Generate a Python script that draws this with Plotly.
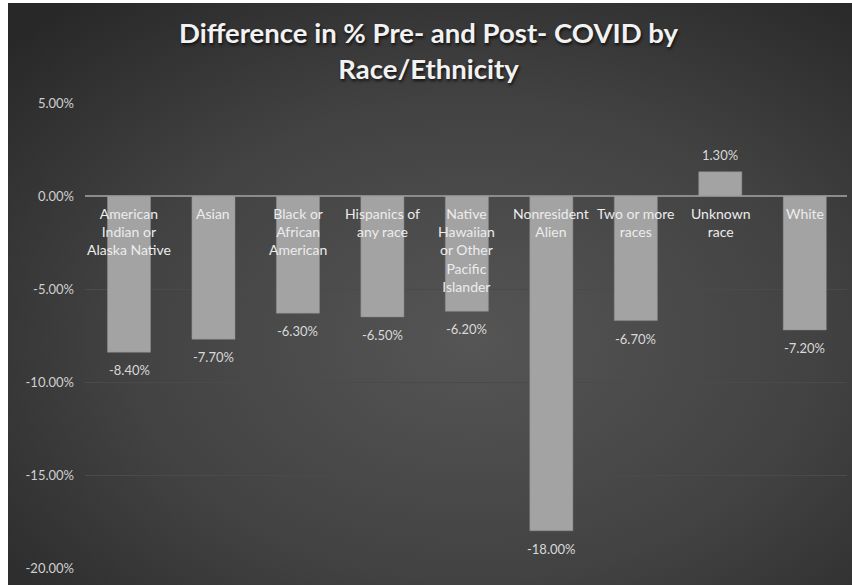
import base64
import plotly.graph_objects as go

categories = ["American Indian or Alaska Native", "Asian", "Black or African American",
              "Hispanics of any race", "Native Hawaiian or Other Pacific Islander",
              "Nonresident Alien", "Two or more races", "Unknown race", "White"]
wrapped_labels = ["American<br>Indian or<br>Alaska Native", "Asian", "Black or<br>African<br>American",
                  "Hispanics of<br>any race", "Native<br>Hawaiian<br>or Other<br>Pacific<br>Islander",
                  "Nonresident<br>Alien", "Two or more<br>races", "Unknown<br>race", "White"]
values = [-8.4, -7.7, -6.3, -6.5, -6.2, -18.0, -6.7, 1.3, -7.2]
tick_vals = [5, 0, -5, -10, -15, -20]
tick_text = ["5.00%", "0.00%", "-5.00%", "-10.00%", "-15.00%", "-20.00%"]
title_text = "<b>Difference in % Pre- and Post- COVID by<br>Race/Ethnicity</b>"

FONT = "Lato, 'Open Sans', sans-serif"

svg = """<svg xmlns='http://www.w3.org/2000/svg' width='844' height='582' viewBox='0 0 844 582' preserveAspectRatio='none'>
<defs><radialGradient id='g' cx='0.55' cy='0.58' r='0.75' gradientUnits='objectBoundingBox'>
<stop offset='0' stop-color='#555555'/><stop offset='0.55' stop-color='#424242'/><stop offset='1' stop-color='#282828'/>
</radialGradient></defs><rect width='844' height='582' fill='url(#g)'/></svg>"""
bg_uri = "data:image/svg+xml;base64," + base64.b64encode(svg.encode()).decode()

fig = go.Figure()
fig.add_trace(go.Bar(
    x=categories, y=values,
    marker=dict(color="#a3a3a3", line=dict(color="#8f8f8f", width=0.5)),
    hoverinfo="skip",
))

W, H = 852, 585
L, R, T, B = 85, 5, 103, 17
pw, ph = W - L - R, H - T - B

annotations = []
for c, lab in zip(categories, wrapped_labels):
    annotations.append(dict(x=c, y=0, xref="x", yref="y", text=lab, showarrow=False,
                            yanchor="top", yshift=-7,
                            font=dict(family=FONT, size=14, color="#ececec")))
for c, v in zip(categories, values):
    annotations.append(dict(x=c, y=v, xref="x", yref="y", text=f"{v:.2f}%", showarrow=False,
                            yanchor="middle", yshift=(-18 if v < 0 else 17),
                            font=dict(family=FONT, size=13, color="#d9d9d9")))
annotations.append(dict(x=(428 - L) / pw, y=(H - B - 14) / ph, xref="paper", yref="paper",
                        text=title_text, showarrow=False, xanchor="center", yanchor="top",
                        font=dict(family=FONT, size=27.5, color="#f2f2f2", shadow="1px 2px 3px #111")))

x0 = (8 - L) / pw
x1 = (W - L) / pw
y1 = (H - B - 3) / ph
y0 = (H - B - H) / ph

fig.update_layout(
    width=W, height=H,
    margin=dict(l=L, r=R, t=T, b=B),
    paper_bgcolor="white",
    plot_bgcolor="rgba(0,0,0,0)",
    bargap=0.49,
    showlegend=False,
    xaxis=dict(showticklabels=False, showgrid=False, zeroline=False, showline=False, ticks=""),
    yaxis=dict(range=[-20, 5], tickvals=tick_vals, ticktext=tick_text,
               showgrid=True, gridcolor="#4a4a4a", gridwidth=1,
               zeroline=True, zerolinecolor="#8c8c8c", zerolinewidth=1.5,
               showline=False, ticks="", ticklabelstandoff=10,
               tickfont=dict(family=FONT, size=13, color="#d0d0d0")),
    annotations=annotations,
    images=[dict(source=bg_uri, xref="paper", yref="paper", x=x0, y=y1,
                 sizex=x1 - x0, sizey=y1 - y0, sizing="stretch", layer="below",
                 xanchor="left", yanchor="top")],
)

fig.write_html("out.html")
